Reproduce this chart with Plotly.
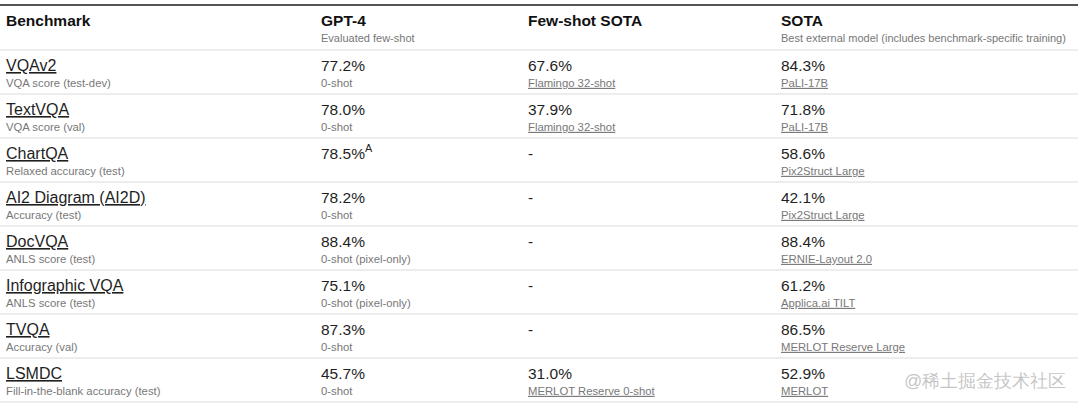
import plotly.graph_objects as go

# ---------------- data ----------------
columns = ["Benchmark", "GPT-4", "Few-shot SOTA", "SOTA"]
column_notes = ["", "Evaluated few-shot", "", "Best external model (includes benchmark-specific training)"]

benchmarks = ["VQAv2", "TextVQA", "ChartQA", "AI2 Diagram (AI2D)", "DocVQA",
              "Infographic VQA", "TVQA", "LSMDC"]
metrics = ["VQA score (test-dev)", "VQA score (val)", "Relaxed accuracy (test)",
           "Accuracy (test)", "ANLS score (test)", "ANLS score (test)",
           "Accuracy (val)", "Fill-in-the-blank accuracy (test)"]

gpt4_values = [77.2, 78.0, 78.5, 78.2, 88.4, 75.1, 87.3, 45.7]
gpt4_footnotes = ["", "", "A", "", "", "", "", ""]
gpt4_notes = ["0-shot", "0-shot", "", "0-shot", "0-shot (pixel-only)",
              "0-shot (pixel-only)", "0-shot", "0-shot"]

fewshot_values = [67.6, 37.9, None, None, None, None, None, 31.0]
fewshot_models = ["Flamingo 32-shot", "Flamingo 32-shot", "", "", "", "", "",
                  "MERLOT Reserve 0-shot"]

sota_values = [84.3, 71.8, 58.6, 42.1, 88.4, 61.2, 86.5, 52.9]
sota_models = ["PaLI-17B", "PaLI-17B", "Pix2Struct Large", "Pix2Struct Large",
               "ERNIE-Layout 2.0", "Applica.ai TILT", "MERLOT Reserve Large", "MERLOT"]

watermark = "@稀土掘金技术社区"

# ---------------- layout constants ----------------
W, H = 1080, 406
col_x = [6, 321, 528, 781]
HEADER_LINE = 50
ROW_H = 44
FONT = "Liberation Sans, Arial, sans-serif"
DARK = "#1f1f1f"
GRAY = "#777777"


def fmt(v, sup=""):
    if v is None:
        return "-"
    s = f"{v:.1f}%"
    if sup:
        s += f"<sup>{sup}</sup>"
    return s


def und(s):
    return f"<u>{s}</u>" if s else ""


n = len(benchmarks)
main_y = [HEADER_LINE + ROW_H * i + 17 for i in range(n)]
sub_y = [HEADER_LINE + ROW_H * i + 34 for i in range(n)]

fig = go.Figure()


def add_text(xs, ys, texts, size, color):
    keep = [(x, y, t) for x, y, t in zip(xs, ys, texts) if t]
    fig.add_trace(go.Scatter(
        x=[k[0] for k in keep], y=[k[1] for k in keep], text=[k[2] for k in keep],
        mode="text", textposition="middle right",
        textfont=dict(family=FONT, size=size, color=color),
        hoverinfo="skip", showlegend=False,
    ))


# header
add_text(col_x, [22] * 4, [f"<b>{c}</b>" for c in columns], 15.5, "#111111")
add_text(col_x, [39] * 4, column_notes, 11, GRAY)

# main values
add_text([col_x[0]] * n, main_y, [und(b) for b in benchmarks], 16, DARK)
add_text([col_x[1]] * n, main_y, [fmt(v, f) for v, f in zip(gpt4_values, gpt4_footnotes)], 15.5, DARK)
add_text([col_x[2]] * n, main_y, [fmt(v) for v in fewshot_values], 15.5, DARK)
add_text([col_x[3]] * n, main_y, [fmt(v) for v in sota_values], 15.5, DARK)

# sub lines
add_text([col_x[0]] * n, sub_y, metrics, 11.3, GRAY)
add_text([col_x[1]] * n, sub_y, gpt4_notes, 11.3, GRAY)
add_text([col_x[2]] * n, sub_y, [und(m) for m in fewshot_models], 11.3, GRAY)
add_text([col_x[3]] * n, sub_y, [und(m) for m in sota_models], 11.3, GRAY)

# watermark
add_text([904], [382], [watermark], 18, "rgba(140,140,140,0.5)")

# lines
shapes = [dict(type="line", x0=0, x1=1078, y0=5, y1=5, xref="x", yref="y",
               line=dict(color="#555555", width=2))]
for i in range(n + 1):
    yy = HEADER_LINE + ROW_H * i
    shapes.append(dict(type="line", x0=0, x1=1078, y0=yy, y1=yy, xref="x", yref="y",
                       line=dict(color="#dcdcdc", width=1.2)))

fig.update_layout(
    width=W, height=H,
    margin=dict(l=0, r=0, t=0, b=0),
    paper_bgcolor="white", plot_bgcolor="white",
    xaxis=dict(range=[0, W], visible=False, fixedrange=True),
    yaxis=dict(range=[H, 0], visible=False, fixedrange=True),
    shapes=shapes,
)

fig.write_html("out.html", config={"displayModeBar": False},
               post_script="document.body.style.margin='0';")
